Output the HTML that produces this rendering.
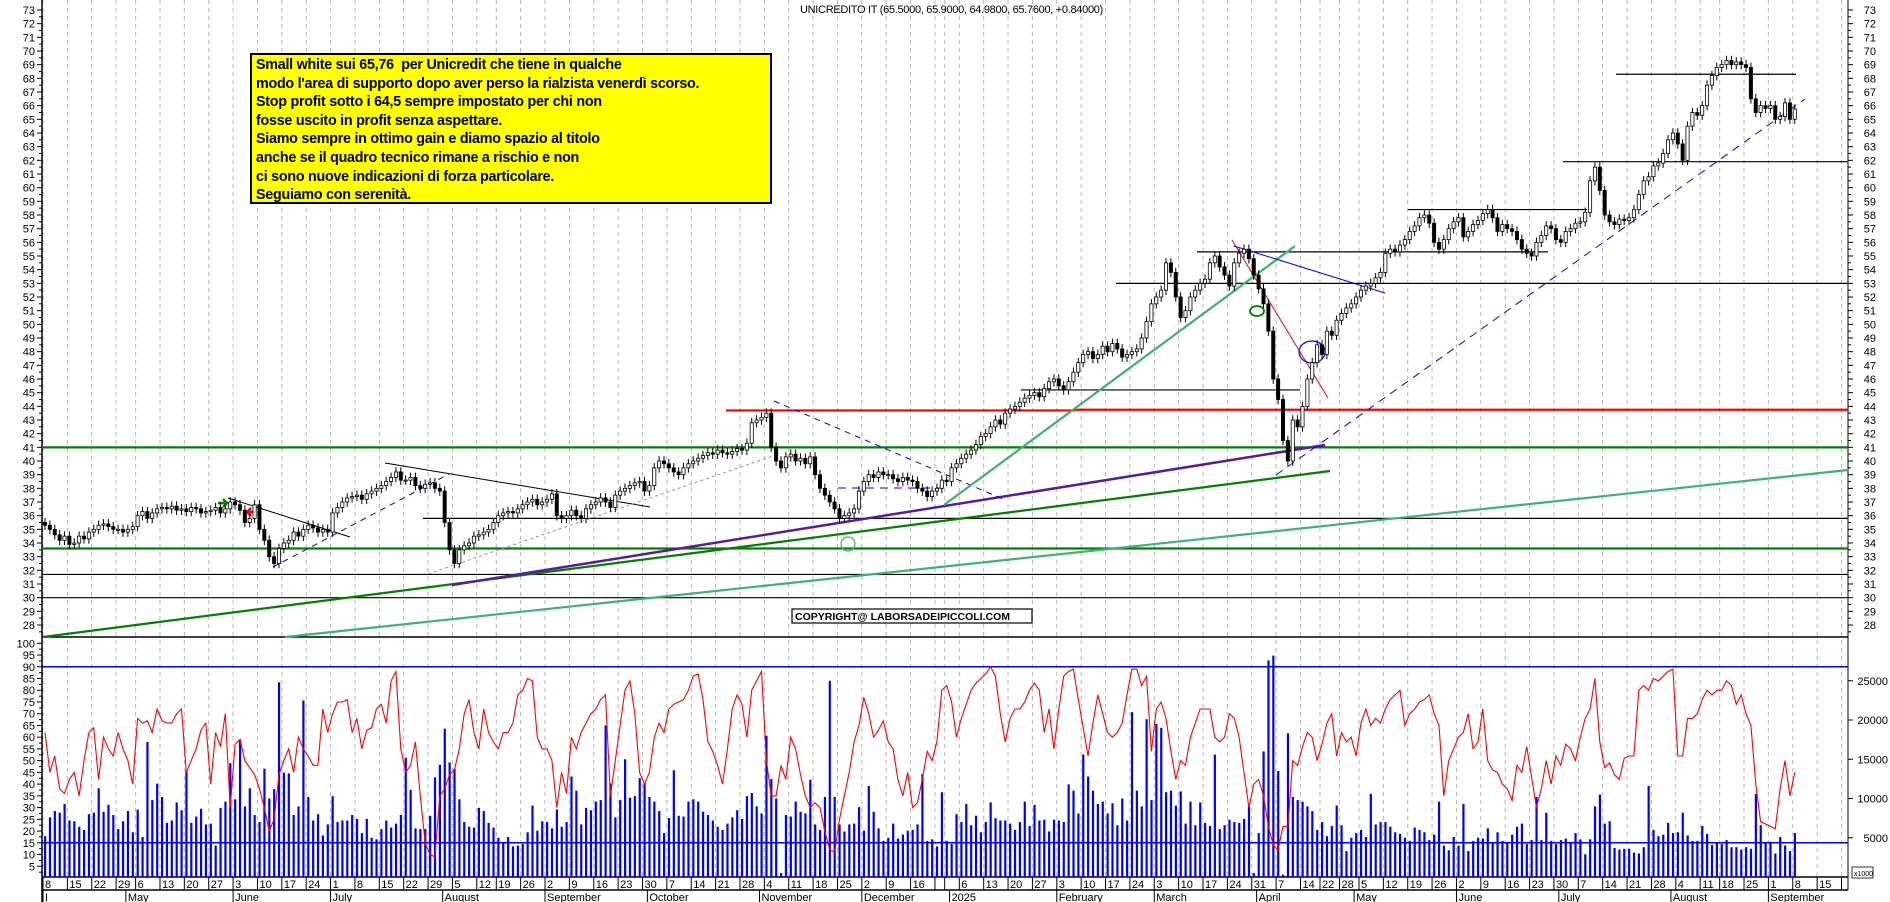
<!DOCTYPE html>
<html><head><meta charset="utf-8"><title>UNICREDITO IT</title>
<style>
html,body{margin:0;padding:0;background:#fff;}
svg{display:block;font-family:"Liberation Sans",Arial,sans-serif;}
#note{position:absolute;left:250px;top:53px;width:514px;height:146px;background:#ffff00;border:2px solid #000;font:bold 14.3px/18.6px "Liberation Sans",Arial,sans-serif;color:#000;padding:1px 0 0 4px;white-space:nowrap;letter-spacing:-0.25px;}
</style></head>
<body>
<div style="position:relative;width:1890px;height:902px;overflow:hidden">
<svg id="chart" width="1890" height="902" viewBox="0 0 1890 902"></svg>
<div id="note">Small white sui 65,76&nbsp; per Unicredit che tiene in qualche<br>modo l'area di supporto dopo aver perso la rialzista venerdì scorso.<br>Stop profit sotto i 64,5 sempre impostato per chi non<br>fosse uscito in profit senza aspettare.<br>Siamo sempre in ottimo gain e diamo spazio al titolo<br>anche se il quadro tecnico rimane a rischio e non<br>ci sono nuove indicazioni di forza particolare.<br>Seguiamo con serenità.</div>
</div>
<script>
// ---- data (one value per trading day, starting Mon 8 Apr 2024; exchange holidays excluded) ----
const closes = [
35.3,35.0,34.6,34.2,34.5, 33.9,34.0,34.5,34.3,34.8, 35.0,35.3,35.4,35.2,35.0, 35.0,34.8,35.0,35.2,
36.0,36.3,35.8,36.2,36.5, 36.6,36.5,36.7,36.4,36.5, 36.3,36.6,36.5,36.2,36.3, 36.4,36.6,36.2,36.5,37.0,
36.8,36.4,35.5,35.8,36.8, 35.0,34.2,33.0,32.5,33.6, 34.0,34.2,34.8,34.5,35.0, 35.3,35.1,34.8,35.0,34.8,
36.2,36.6,37.0,37.3,37.4, 37.5,37.2,37.6,37.8,38.0, 38.2,38.5,38.8,39.2,38.6, 38.6,38.8,38.2,38.0,38.3,
38.4,38.0,37.8,35.5,33.5, 32.5,33.5,33.8,34.0,34.5, 34.6,34.8,35.0,35.5, 36.0,36.2,36.3,36.2,36.5,
36.8,37.0,37.2,36.8,37.0, 37.2,37.6,36.0,35.8,36.0, 36.4,36.0,35.8,36.5,36.8, 37.0,37.3,37.0,36.6,37.5,
37.8,38.0,38.2,38.4,38.5, 37.8,38.2,39.5,40.0,39.8, 39.5,39.2,39.0,39.5,39.8, 40.0,40.2,40.4,40.6,40.5,
40.8,40.6,40.5,40.7,40.9, 40.8,41.3,42.8,43.0,43.2, 43.5,41.0,40.0,39.5,40.3, 40.5,40.0,40.2,39.8,40.3,
39.0,38.0,37.5,37.0,36.5, 35.8,36.0,36.2,36.5,37.8, 38.5,39.0,38.8,39.2,39.0, 39.0,38.7,38.5,38.8,38.6,
38.5,38.0,37.8,37.4,37.8, 38.0,38.6, 38.5,39.5,39.8,40.2, 40.5,40.8,41.2,41.8,42.0,
42.5,43.0,42.7,43.5,43.8, 44.0,44.3,44.6,44.8,45.0, 44.7,45.3,45.8,46.0,45.5, 45.2,45.8,46.5,47.2,47.8,
48.0,47.5,47.8,48.4,48.0, 48.6,48.2,47.6,47.8,48.0, 48.2,49.0,50.2,51.5,52.0, 52.5,54.5,53.8,52.0,50.5,
51.0,52.0,52.5,53.0,53.3, 54.5,55.0,54.2,53.6,52.8, 54.5,55.2,55.5,54.8,53.6, 52.6,51.5,49.5,46.0,44.5,
41.5,40.0,43.0,42.5,44.0, 46.0,47.2,48.5,47.8, 49.5,49.2,50.3,50.8, 51.2,51.5,52.0,52.5,
52.8,53.0,53.4,53.8,55.2, 55.5,55.3,55.8,56.2,56.8, 57.2,57.8,58.0,57.4,56.0, 55.5,56.2,57.0,57.5,57.8,
56.4,56.8,57.3,57.6,58.1, 58.4,57.8,56.8,57.3,57.0, 56.8,56.2,55.5,55.2,55.0, 56.0,56.5,57.2,57.0,56.2,
56.0,56.8,57.0,57.4,57.5, 58.2,60.5,61.5,59.8,58.0, 57.5,57.3,57.7,57.6,57.8, 58.4,59.5,60.5,60.8,61.6,
61.8,62.5,63.5,64.0,63.2, 62.0,64.5,65.5,65.3,66.0, 67.5,68.2,68.8,69.0, 69.3,69.0,69.2,69.0,68.8,
66.5,65.5,66.0,65.8,66.0, 65.0,65.2,66.2,65.0,65.76
];
const oscillator = [
62,45,52,38,36, 42,45,35,50,62, 64,42,60,55,52, 62,55,50,40,
68,66,67,62,72, 67,66,66,70,72, 45,50,55,63,66, 40,62,56,70,30,
57,59,50,47,44, 38,30,20,25,44, 50,55,45,60,55, 52,48,48,72,62,
70,75,75,76,62, 68,55,63,64,72, 74,66,84,88,55, 45,48,58,35,15,
10,9,35,38,44, 46,55,70,76,62, 55,72,62,58, 55,62,62,66,78,
80,85,84,60,55, 55,50,30,45,36, 60,55,62,66,70, 72,76,78,35,50,
65,80,84,70,45, 40,45,60,66,62, 72,74,75,76,80, 86,87,76,58,54,
48,40,55,72,78, 74,60,80,84,88, 50,35,35,48,42, 60,55,44,35,30,
32,30,20,12,11, 25,35,45,58,65, 77,70,60,63,67, 58,55,42,35,45,
30,32,42,54,50, 58,80, 82,75,60,68, 74,80,83,85,87,
90,86,70,58,68, 72,72,75,80,83, 80,62,72,55,72, 86,88,89,76,64,
52,66,78,70,62, 60,62,66,78,89, 89,82,86,54,72, 75,68,54,42,50,
48,60,66,72,72, 72,60,58,60,70, 68,60,45,30,40, 42,35,22,14,12,
22,22,50,48,56, 62,60,50,57, 66,70,52,62, 58,60,52,66,
72,65,68,66,72, 76,78,80,65,70, 72,75,76,78,70, 65,35,50,55,60,
62,70,55,58,72, 50,46,45,40,38, 33,48,45,56,43, 30,38,50,40,52,
48,57,55,50,60, 68,72,85,58,47, 49,44,42,51,52, 52,80,82,80,85,
84,86,88,89,52, 52,68,68,70,76, 80,78,80,80, 84,82,74,78,70,
65,40,24,23,22, 21,38,50,35,45
];
const volumeK = [
5.2,7.6,8.4,8.2,9.3, 7.2,7.1,6.4,6.0,8.0, 8.2,11.3,8.3,9.2,7.9, 6.1,7.1,8.4,5.7,
8.6,5.1,17.2,9.8,11.9, 10.2,6.9,7.2,9.5,8.5, 13.6,6.9,7.7,8.7,6.7, 6.8,4.0,8.8,9.6,14.5,
9.9,17.5,9.0,11.3,7.9, 7.0,13.8,10.0,11.2,24.8, 13.3,13.2,7.9,9.0,22.5, 10.2,7.2,8.0,5.3,6.7,
10.3,7.0,7.2,7.2,7.9, 7.4,5.6,7.4,5.0,4.8, 6.1,7.2,6.3,6.8,7.9, 15.2,11.1,6.2,6.1,6.1,
7.8,12.7,14.3,18.9,14.6, 13.8,9.9,7.0,6.4,6.3, 8.8,8.4,6.9,6.3, 5.0,4.4,5.1,3.9,4.0,
4.2,5.7,9.1,5.9,7.1, 7.0,6.2,8.6,6.4,7.0, 12.8,11.0,6.7,8.8,8.5, 9.6,9.8,19.3,11.9,7.6,
9.8,15.0,10.1,10.3,12.6, 12.0,10.2,9.6,8.4,5.6, 7.5,13.6,7.8,7.7,9.6, 9.9,9.6,8.3,7.9,7.2,
6.4,6.0,6.8,7.6,8.5, 7.4,10.3,10.7,9.0,8.1, 18.0,12.5,10.0,0.5,7.9, 7.7,9.6,8.3,8.1,12.4,
6.7,6.0,10.2,25.0,10.2, 6.7,5.8,6.7,6.8,8.9, 5.9,11.6,8.3,6.2,4.6, 5.0,6.8,4.9,5.4,5.9,
6.0,6.7,13.1,4.6,4.8, 3.9,10.8, 4.6,4.2,8.0,7.0, 9.3,6.6,7.8,5.7,7.0,
9.5,7.5,7.2,7.2,6.8, 6.0,7.0,9.6,6.5,9.2, 7.2,7.3,5.8,7.3,7.2, 7.0,11.8,11.0,8.1,15.6,
12.8,11.0,9.3,9.6,8.1, 9.4,6.6,10.0,7.2,21.0, 11.0,9.0,20.1,9.8,19.5, 19.0,10.8,11.0,9.1,10.9,
6.8,9.6,6.6,9.5,6.9, 6.5,15.6,6.1,6.6,7.3, 7.0,6.9,7.4,9.0,0.5, 5.6,16.0,27.6,28.2,13.5,
0.3,18.3,10.2,9.8,9.6, 9.0,8.4,6.0,7.0, 5.2,6.5,9.1,6.6, 3.3,5.0,5.6,6.0,
5.1,10.6,6.7,7.0,7.0, 6.4,5.7,5.5,5.0,4.6, 6.3,6.0,5.7,4.7,5.4, 9.6,4.0,3.4,5.1,4.0,
9.3,3.3,4.6,5.0,4.9, 6.2,4.3,5.7,4.6,4.3, 5.4,6.4,6.8,4.2,4.7, 10.2,4.7,8.2,4.6,4.2,
4.7,4.9,4.4,5.6,4.8, 2.9,4.8,9.0,10.5,6.8, 7.1,3.7,3.5,3.6,3.6, 3.1,3.0,3.8,11.6,6.0,
5.2,5.4,6.9,5.6,5.7, 8.2,5.3,4.6,4.6,6.5, 5.5,4.1,4.4,4.2, 4.7,3.8,3.8,3.5,3.8,
3.6,10.6,6.6,4.3,4.5, 3.0,5.1,4.0,3.3,5.6
];
const priceTicks = [28,29,30,31,32,33,34,35,36,37,38,39,40,41,42,43,44,45,46,47,48,49,50,51,52,53,54,55,56,57,58,59,60,61,62,63,64,65,66,67,68,69,70,71,72,73];
const oscTicks = [5,10,15,20,25,30,35,40,45,50,55,60,65,70,75,80,85,90,95,100];
const volTicks = [5000,10000,15000,20000,25000];
const monthNames = ["2025","February","March","April","May","June","July","August","September","October","November","December"];
const holidays = ["2024-5-1","2024-8-15","2024-12-24","2024-12-25","2024-12-26","2024-12-31","2025-1-1","2025-4-18","2025-4-21","2025-5-1","2025-8-15"];

// ---- axes ----
const L = 42, R = 1848, DX = 4.874;
function xDay(i){ return L + 1 + i*DX + 2; }
function yP(p){ return 10 + (73 - p)*13.667; }
function yO(v){ return 878 - 2.347*v; }
function yV(k){ return 877 - 7.85*k; }

const svg = document.getElementById('chart');
const NS = 'http://www.w3.org/2000/svg';
function mk(tag, attrs, parent){
  const e = document.createElementNS(NS, tag);
  for (const k in attrs) e.setAttribute(k, attrs[k]);
  (parent||svg).appendChild(e);
  return e;
}

const dates = [];
{ let d = new Date(2024,3,8); while (dates.length < 380){ const wd = d.getDay(); const key=d.getFullYear()+'-'+(d.getMonth()+1)+'-'+d.getDate(); if (wd>0 && wd<6 && holidays.indexOf(key)<0) dates.push(new Date(d)); d.setDate(d.getDate()+1);} }
function weekId(d){ const m=new Date(d); m.setDate(m.getDate()-(m.getDay()+6)%7); return m.getFullYear()*10000+m.getMonth()*100+m.getDate(); }
function weekStart(i){ return i===0 || weekId(dates[i])!==weekId(dates[i-1]); }
const weekStarts = [];
for (let i=0;i<380;i++) if (weekStart(i)) weekStarts.push(i);

// grid
const grid = mk('g',{});


weekStarts.forEach(i=>{
  const x = L+1+i*DX; if (x>R) return;
  const gl = mk('line',{x1:x,y1:0,x2:x,y2:877,stroke:'#b4b4b4','stroke-width':1,'stroke-dasharray':'4,4'},grid);
  
  
});

// panel frame
mk('line',{x1:L,y1:0,x2:L,y2:902,stroke:'#000','stroke-width':1.5});
mk('line',{x1:R,y1:0,x2:R,y2:890,stroke:'#000','stroke-width':1});
mk('line',{x1:L,y1:637,x2:R,y2:637,stroke:'#000','stroke-width':1.5});
mk('line',{x1:L,y1:877,x2:R,y2:877,stroke:'#000','stroke-width':1.5});
mk('line',{x1:L,y1:890,x2:R,y2:890,stroke:'#000','stroke-width':1.5});

const pa = mk('g',{'font-size':'11',fill:'#000'});


priceTicks.forEach(p=>{
  const y=yP(p);
  mk('line',{x1:L-5,y1:y,x2:L,y2:y,stroke:'#000'},pa);
  mk('line',{x1:L-3,y1:y+6.8,x2:L,y2:y+6.8,stroke:'#000'},pa);
  mk('line',{x1:R,y1:y,x2:R+5,y2:y,stroke:'#000'},pa);
  mk('line',{x1:R,y1:y+6.8,x2:R+3,y2:y+6.8,stroke:'#000'},pa);
  const t1=mk('text',{x:L-7,y:y+4,'text-anchor':'end'},pa); t1.textContent=p;
  const t2=mk('text',{x:R+28,y:y+4,'text-anchor':'end'},pa); t2.textContent=p;
});
const oa = mk('g',{'font-size':'11',fill:'#000'});


oscTicks.forEach(v=>{
  const y=yO(v);
  mk('line',{x1:L-5,y1:y,x2:L,y2:y,stroke:'#000'},oa);
  mk('line',{x1:L-3,y1:y+5.9,x2:L,y2:y+5.9,stroke:'#000'},oa);
  const t=mk('text',{x:L-7,y:y+4,'text-anchor':'end'},oa); t.textContent=v;
});
const va = mk('g',{'font-size':'11',fill:'#000'});


volTicks.forEach(v=>{
  const y=yV(v/1000);
  mk('line',{x1:R,y1:y,x2:R+5,y2:y,stroke:'#000'},va);
  const t=mk('text',{x:R+40,y:y+4,'text-anchor':'end'},va); t.textContent=v;
});
mk('rect',{x:1852,y:867,width:21,height:11,fill:'#fff',stroke:'#000','stroke-width':0.8},va);
const xk=mk('text',{x:1854,y:876,'font-size':'7',fill:'#000'},va); xk.textContent='x1000';

// date axis
const da = mk('g',{'font-size':'11',fill:'#000'});


weekStarts.forEach((i,k)=>{
  const x=L+1+i*DX; if (x>R) return;
  mk('line',{x1:x,y1:877,x2:x,y2:890,stroke:'#000'},da);
  const nx = k+1<weekStarts.length ? L+1+weekStarts[k+1]*DX : x+30;
  if (x < R-10 && nx-x > 16){ const t=mk('text',{x:x+2,y:888},da); t.textContent=dates[i].getDate(); }
});
for (let i=0;i<380;i++){
  const x=L+1+i*DX; if (x>R) break;
  const d=dates[i];
  if (i===0 || d.getMonth()!==dates[i-1].getMonth()){
    mk('line',{x1:x,y1:890,x2:x,y2:902,stroke:'#000'},da);
    const name = i===0 ? 'I' : (d.getMonth()===0 ? '2025' : monthNames[d.getMonth()]);
    const t=mk('text',{x:x+2,y:901},da); t.textContent=name;
  }
}

// horizontal levels & trendlines (annotations)
const ann = mk('g',{fill:'none'});


function ln(x1,y1,x2,y2,c,w,dash,name){
  const e=mk('line',{x1,y1,x2,y2,stroke:c,'stroke-width':w},ann);
  if(dash) e.setAttribute('stroke-dasharray',dash);
  
  
}
ln(L,yP(41),R,yP(41),'#008000',2.2,null,'support-41');
ln(L,yP(33.6),R,yP(33.6),'#008000',2.2,null,'support-33-6');
ln(L,yP(31.7),R,yP(31.7),'#000',1.2,null,'level-31-7');
ln(L,yP(30),R,yP(30),'#000',1.2,null,'level-30');
ln(423,yP(35.8),R,yP(35.8),'#000',1.2,null,'level-35-8');
ln(726,yP(43.7),1075,yP(43.7),'#ff0000',2.2,null,'resistance-43-7');
ln(1075,yP(43.75),R,yP(43.75),'#ff0000',2.2,null,'resistance-43-7b');
ln(1021,yP(45.2),1300,yP(45.2),'#000',1.2,null,'level-45-2');
ln(1116,yP(53),R,yP(53),'#000',1.2,null,'level-53');
ln(1197,yP(55.3),1548,yP(55.3),'#000',1.2,null,'level-55-3');
ln(1408,yP(58.4),1587,yP(58.4),'#000',1.2,null,'level-58-4');
ln(1563,yP(61.9),R,yP(61.9),'#000',1.2,null,'level-61-9');
ln(1616,yP(68.3),1796,yP(68.3),'#000',1.2,null,'level-68-3');
ln(43,637,1330,471,'#008000',2.2,null,'long-uptrend');
ln(285,637,R,470,'#3cb371',2.2,null,'long-uptrend-2');
ln(452,585,1325,445,'#5a1a9a',2.5,null,'purple-trendline');
ln(228,498,350,537,'#000',1,null,'june-downtrend');
ln(385,463,650,507,'#000',1,null,'july-downtrend');
ln(273,567,449,474,'#0000ff',1,'6,5','june-uptrend');
ln(428,574,773,456,'#7f93b8',1,'3,3','aug-uptrend');
ln(774,401,1003,499,'#0000ff',1,'6,5','nov-downtrend');
ln(838,488,940,488,'#0000ff',1,'8,6','dec-level');
ln(944,505,1295,246,'#3cb371',2.2,null,'2025-uptrend');
ln(1232,240,1328,398,'#ff0000',1,null,'march-downtrend');
ln(1234,246,1385,293,'#0000ff',1,null,'march-blue-trend');
ln(1276,475,1805,99,'#0000ff',1,'8,6','april-uptrend');
const e1=mk('ellipse',{cx:1257,cy:311,rx:7,ry:5,stroke:'#008000','stroke-width':1.8},ann);


const e2=mk('ellipse',{cx:1312,cy:352,rx:13,ry:11,stroke:'#0000ff','stroke-width':1.2},ann);


const e3=mk('circle',{cx:848,cy:544,r:7,stroke:'#3cb371','stroke-width':1.2},ann);


const a1=mk('path',{d:'M218 503 h8 M223 499 l4 4 l-4 4',stroke:'#008000','stroke-width':2.5},ann);


const a2=mk('path',{d:'M256 512 h-8 M251 508 l-4 4 l4 4',stroke:'#ff0000','stroke-width':2.5},ann);



ln(L,yO(90),R,yO(90),'#0000ff',1.5,null,'osc-level-90');

// volume bars
const vb = mk('g',{fill:'#0000ff'});


volumeK.forEach((v,i)=>{
  const x=xDay(i), y=yV(v);
  const r=mk('rect',{x:x-1,y:y,width:2.2,height:877-y},vb);
  
  
});
ln(L,yO(15),R,yO(15),'#0000ff',1.5,null,'osc-level-15');

// oscillator line
const op = mk('polyline',{fill:'none',stroke:'#ff0000','stroke-width':1.1,points:oscillator.map((v,i)=>xDay(i).toFixed(1)+','+yO(v).toFixed(1)).join(' ')});



// candles
const cg = mk('g',{});


closes.forEach((c,i)=>{
  const o = i===0 ? 35.5 : closes[i-1];
  const x = xDay(i);
  const hi = Math.max(o,c)+0.35, lo = Math.min(o,c)-0.35;
  const w = mk('line',{x1:x,y1:yP(hi),x2:x,y2:yP(lo),stroke:'#000','stroke-width':1},cg);
  
  
  const top=yP(Math.max(o,c)), h=Math.max(1,yP(Math.min(o,c))-top);
  const b = mk('rect',{x:x-1.6,y:top,width:3.2,height:h,fill:c>=o?'#fff':'#000',stroke:'#000','stroke-width':0.8},cg);
  
  
});

// title & copyright
const tt=mk('text',{x:800,y:13,'font-size':'11',fill:'#000','letter-spacing':'-0.3'});


tt.textContent='UNICREDITO IT (65.5000, 65.9000, 64.9800, 65.7600, +0.84000)';
const cr=mk('rect',{x:792,y:609,width:240,height:14,fill:'#fff',stroke:'#000','stroke-width':1.2});


const ct=mk('text',{x:795,y:620,'font-size':'10.5','font-weight':'bold',fill:'#000'});


ct.textContent='COPYRIGHT@ LABORSADEIPICCOLI.COM';
</script>
</body></html>
